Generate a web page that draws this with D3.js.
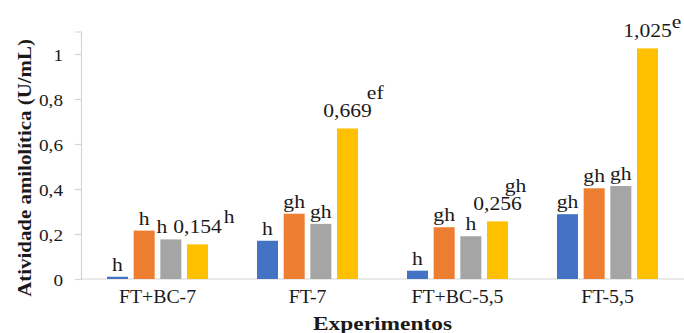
<!DOCTYPE html>
<html>
<head>
<meta charset="utf-8">
<script src="https://cdn.jsdelivr.net/npm/d3@7/dist/d3.min.js"></script>
<style>
  html, body { margin: 0; padding: 0; background: #fff; }
  svg { display: block; }
  text { font-family: "Liberation Serif", "Times New Roman", serif; }
</style>
</head>
<body>
<svg id="chart" width="684" height="333"></svg>
<script>
// Experiments on the x axis
const categories = ["FT+BC-7", "FT-7", "FT+BC-5,5", "FT-5,5"];

// Amylolytic activity (U/mL) for each of the four series
const blueValues   = [0.010, 0.170, 0.037, 0.288];
const orangeValues = [0.215, 0.290, 0.230, 0.403];
const grayValues   = [0.176, 0.245, 0.190, 0.413];
const yellowValues = [0.154, 0.669, 0.256, 1.025];

// Statistical grouping letters shown above each bar
const blueLetters   = ["h", "h", "h", "gh"];
const orangeLetters = ["h", "gh", "gh", "gh"];
const grayLetters   = ["h", "gh", "h", "gh"];
const yellowLetters = ["h", "ef", "gh", "e"];

// Y axis ticks
const yTicks = [0, 0.2, 0.4, 0.6, 0.8, 1];
const yMax = 1.1;

const seriesKeys = ["blue", "orange", "gray", "yellow"];
const seriesValues = { blue: blueValues, orange: orangeValues, gray: grayValues, yellow: yellowValues };
const seriesLetters = { blue: blueLetters, orange: orangeLetters, gray: grayLetters, yellow: yellowLetters };
const colors = { blue: "#4472C4", orange: "#ED7D31", gray: "#A5A5A5", yellow: "#FFC000" };

const svg = d3.select("#chart");
const axisColor = "#d4d4d4";
const textColor = "#1a1a1a";
const ptFmt = d3.formatLocale({ decimal: ",", thousands: ".", grouping: [3], currency: ["", ""] });
const valueFmt = ptFmt.format(".3f");
const tickFmt = d => (d % 1 === 0 ? String(d) : ptFmt.format(".1f")(d));

// Text in this chart is drawn slightly wide
function widen(sel, sx) {
  sel.each(function () {
    const t = d3.select(this);
    const x = +t.attr("x") || 0;
    const y = +t.attr("y") || 0;
    t.attr("x", 0).attr("y", 0).attr("transform", `translate(${x},${y}) scale(${sx},1)`);
  });
}

const x0 = d3.scaleBand().domain(categories).range([82.5, 682.5]).paddingInner(0).paddingOuter(0);
const x1 = d3.scaleBand().domain(seriesKeys).range([24.5, 125.5]).paddingInner(0.2125).paddingOuter(0);
const y = d3.scaleLinear().domain([0, yMax]).range([279, 31.5]);

// Y axis
const yAxis = svg.append("g")
  .attr("transform", "translate(81,0)")
  .call(d3.axisLeft(y).tickValues(yTicks).tickFormat(tickFmt).tickSize(6).tickPadding(12));
yAxis.select(".domain").attr("stroke", axisColor).attr("stroke-width", 1.2);
yAxis.selectAll(".tick line").attr("stroke", axisColor).attr("stroke-width", 1.2);
yAxis.selectAll(".tick text")
  .attr("font-size", 16).attr("fill", textColor)
  .attr("font-family", "'Liberation Serif', 'Times New Roman', serif")
  .attr("dy", "0.4em");
widen(yAxis.selectAll(".tick text"), 1.2);

// X axis
const xAxis = svg.append("g")
  .attr("transform", "translate(0,279)")
  .call(d3.axisBottom(x0).tickSize(0).tickPadding(0));
xAxis.select(".domain").remove();
xAxis.append("line").attr("x1", 81).attr("x2", 684).attr("y1", 0).attr("y2", 0)
  .attr("stroke", axisColor).attr("stroke-width", 1.2);
xAxis.selectAll(".tick text")
  .attr("y", 24).attr("dy", 0)
  .attr("font-size", 18).attr("fill", textColor)
  .attr("font-family", "'Liberation Serif', 'Times New Roman', serif");
widen(xAxis.selectAll(".tick text"), 1.1);

// Bars
const rows = categories.map((c, i) => ({
  category: c,
  items: seriesKeys.map(k => ({ key: k, value: seriesValues[k][i], letter: seriesLetters[k][i], idx: i }))
}));

const groups = svg.append("g").selectAll("g").data(rows).join("g")
  .attr("transform", d => `translate(${x0(d.category)},0)`);

groups.selectAll("rect").data(d => d.items).join("rect")
  .attr("x", d => x1(d.key))
  .attr("width", x1.bandwidth())
  .attr("y", d => y(d.value))
  .attr("height", d => y(0) - y(d.value))
  .attr("fill", d => colors[d.key]);

// Letters over the first three series (the first gray one steps left to clear the value label)
const labelSize = 18, labelSx = 1.2;
const letterShift = (d) => (d.key === "gray" && d.idx === 0 ? -9 : 0);
groups.selectAll("text.letter").data(d => d.items.filter(it => it.key !== "yellow")).join("text")
  .attr("class", "letter")
  .attr("x", d => x1(d.key) + x1.bandwidth() / 2 + letterShift(d))
  .attr("y", d => y(d.value) - 6)
  .attr("text-anchor", "middle")
  .attr("font-size", labelSize)
  .attr("fill", textColor)
  .text(d => d.letter)
  .call(widen, labelSx);

// Value plus superscript letter over the yellow series
const supNudge = [[2, -10], [-5, -18], [-17, -18], [0, -9]];
groups.each(function (d) {
  const g = d3.select(this);
  const it = d.items.find(v => v.key === "yellow");
  const cx = x1(it.key) + x1.bandwidth() / 2;
  const by = y(it.value) - 11.5;
  const vt = g.append("text")
    .attr("x", cx).attr("y", by)
    .attr("text-anchor", "middle")
    .attr("font-size", labelSize)
    .attr("fill", textColor)
    .text(valueFmt(it.value));
  const w = vt.node().getComputedTextLength() * labelSx;
  widen(vt, labelSx);
  const [dx, dy] = supNudge[it.idx];
  g.append("text")
    .attr("x", cx + w / 2 + dx).attr("y", by + dy)
    .attr("text-anchor", "start")
    .attr("font-size", labelSize)
    .attr("fill", textColor)
    .text(it.letter)
    .call(widen, labelSx);
});

// Axis titles
svg.append("text")
  .attr("transform", "translate(31,168) rotate(-90) scale(1.1,1)")
  .attr("text-anchor", "middle")
  .attr("font-size", 19)
  .attr("font-weight", "bold")
  .attr("fill", textColor)
  .text("Atividade amilolítica (U/mL)");

svg.append("text")
  .attr("x", 382.5).attr("y", 330)
  .attr("text-anchor", "middle")
  .attr("font-size", 18)
  .attr("font-weight", "bold")
  .attr("fill", textColor)
  .text("Experimentos")
  .call(widen, 1.3);
</script>
</body>
</html>
